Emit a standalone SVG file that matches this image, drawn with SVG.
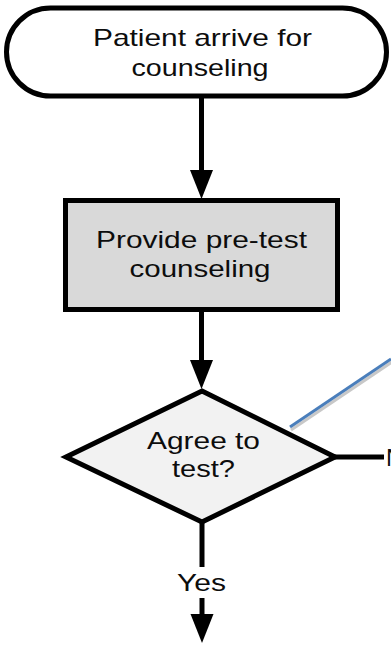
<svg xmlns="http://www.w3.org/2000/svg" width="391" height="645" viewBox="0 0 391 645">
  <style>
    .lbl { font-family: "Liberation Sans", Arial, sans-serif; font-size: 24px; fill: #0d0d0d; text-anchor: middle; }
    .shape { stroke: #000; stroke-width: 5; stroke-linejoin: miter; }
    .flow { stroke: #000; stroke-width: 5; fill: none; }
  </style>
  <defs>
    <marker id="head" markerUnits="userSpaceOnUse" markerWidth="30" markerHeight="24" refX="14" refY="11.5" orient="auto">
      <path d="M0,0 L29,11.5 L0,23 Z" fill="#000"/>
    </marker>
  </defs>

  <rect width="391" height="645" fill="#fff"/>

  <!-- connectors -->
  <g id="connectors">
    <line class="flow" x1="201.5" y1="97" x2="201.5" y2="184" marker-end="url(#head)"/>
    <line class="flow" x1="201.5" y1="311" x2="201.5" y2="374" marker-end="url(#head)"/>
    <line class="flow" x1="335" y1="457" x2="384" y2="457"/>
    <text class="lbl" x="386" y="466" style="text-anchor:start">No</text>
    <line class="flow" x1="202" y1="522" x2="202" y2="567"/>
    <text class="lbl" x="201.5" y="591" textLength="49" lengthAdjust="spacingAndGlyphs">Yes</text>
    <line class="flow" x1="202" y1="598" x2="202" y2="628" marker-end="url(#head)"/>
    <!-- callout line with soft shadow -->
    <line x1="291" y1="430" x2="392" y2="362" stroke="#c8c8c8" stroke-width="3"/>
    <line x1="290" y1="427" x2="391" y2="359" stroke="#4a7ebb" stroke-width="3"/>
  </g>

  <g id="start">
    <rect class="shape" x="6.5" y="8" width="380" height="88" rx="44" ry="44" fill="#fff"/>
    <text class="lbl" x="202.5" y="46" textLength="219" lengthAdjust="spacingAndGlyphs">Patient arrive for</text>
    <text class="lbl" x="200" y="76" textLength="137" lengthAdjust="spacingAndGlyphs">counseling</text>
  </g>

  <g id="pretest">
    <rect class="shape" x="65.5" y="200.5" width="272" height="109" fill="#d9d9d9"/>
    <text class="lbl" x="201.5" y="248" textLength="211" lengthAdjust="spacingAndGlyphs">Provide pre-test</text>
    <text class="lbl" x="200" y="277" textLength="141" lengthAdjust="spacingAndGlyphs">counseling</text>
  </g>

  <g id="agree">
    <polygon class="shape" points="202,391 335,457 202,522 66,457" fill="#f2f2f2"/>
    <text class="lbl" x="203.5" y="449" textLength="113" lengthAdjust="spacingAndGlyphs">Agree to</text>
    <text class="lbl" x="203.5" y="477" textLength="63" lengthAdjust="spacingAndGlyphs">test?</text>
  </g>
</svg>
